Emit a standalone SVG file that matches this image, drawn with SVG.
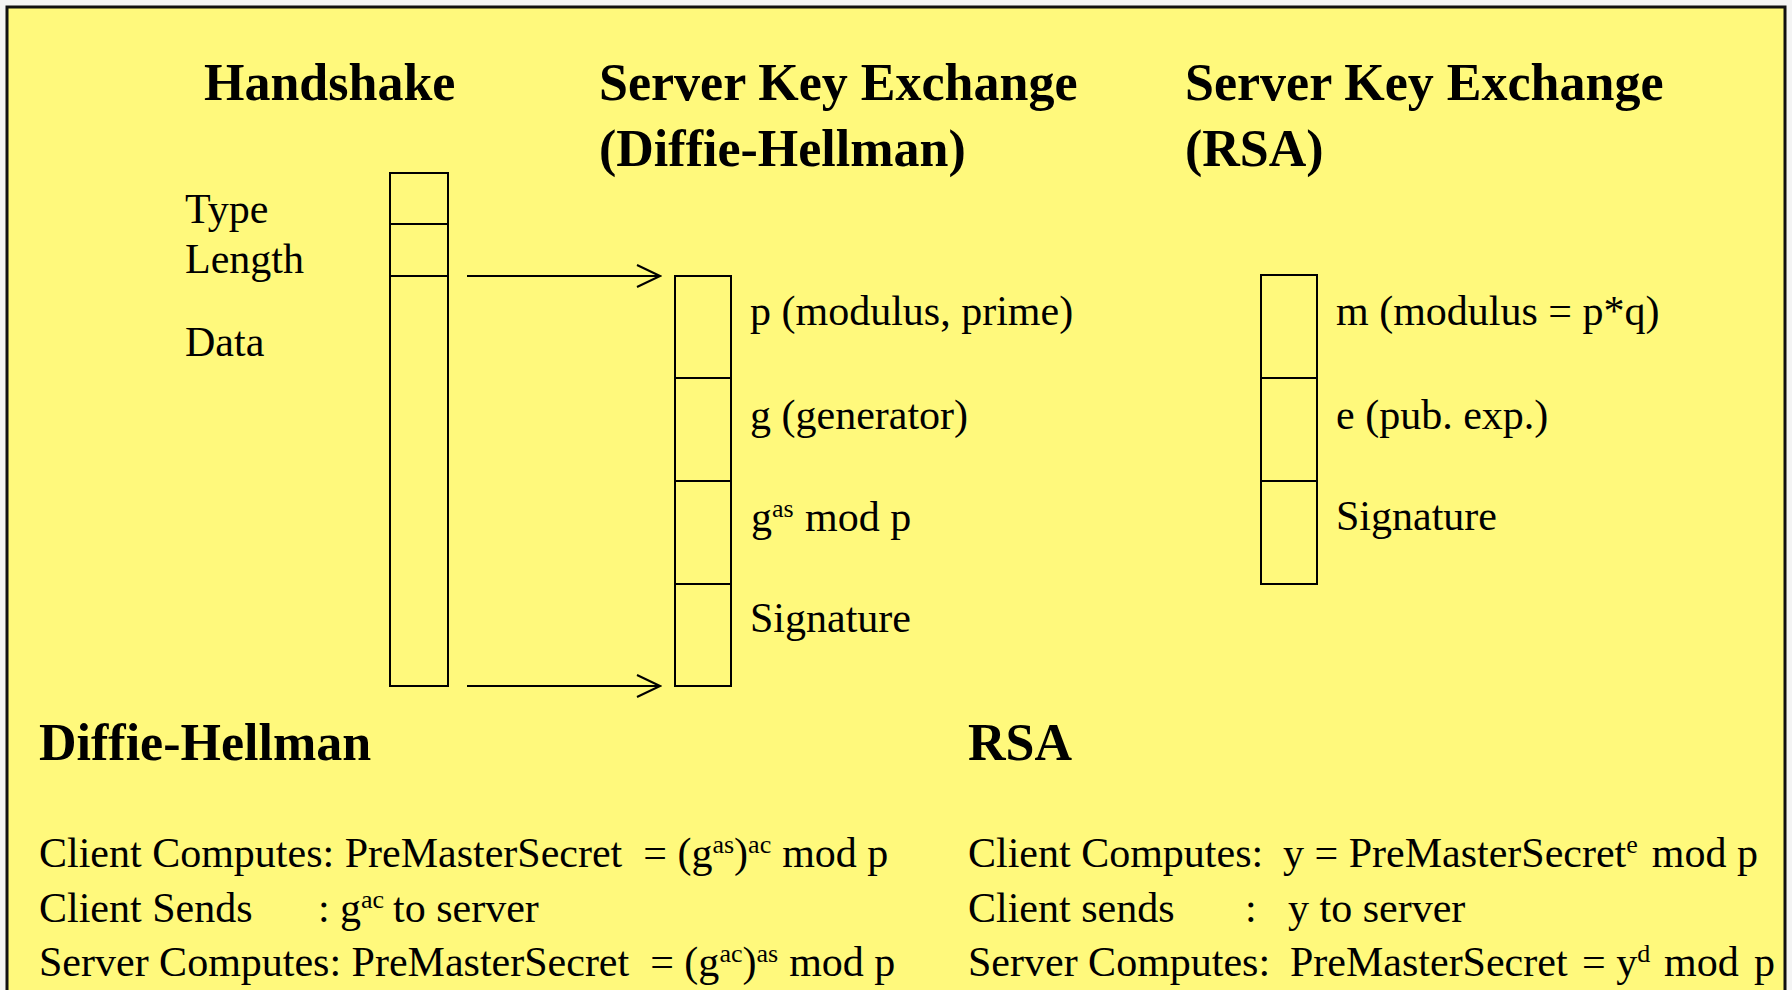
<svg xmlns="http://www.w3.org/2000/svg" width="1792" height="990" viewBox="0 0 1792 990">
  <defs>
    <style>
      .title { font-family: "Liberation Serif", "Times New Roman", serif; font-weight: bold; font-size: 52px; fill: #000; }
      .lbl { font-family: "Liberation Serif", "Times New Roman", serif; font-size: 42px; fill: #000; }
      .sup { font-size: 26px; }
      .box { fill: none; stroke: #000; stroke-width: 2; }
      .conn { fill: none; stroke: #000; stroke-width: 2; }
    </style>
    <marker id="openArrow" viewBox="0 0 26 24" refX="24" refY="12" markerWidth="26" markerHeight="24" markerUnits="userSpaceOnUse" orient="auto">
      <path d="M1,1 L24,12 L1,23" fill="none" stroke="#000" stroke-width="2"/>
    </marker>
  </defs>

  <!-- page -->
  <rect x="0" y="0" width="1792" height="990" fill="#f4f4f4"/>
  <rect x="7" y="7" width="1778" height="1000" fill="#fff97c" stroke="#111" stroke-width="3"/>

  <!-- column headings -->
  <g id="headings">
    <text class="title" x="204" y="100">Handshake</text>
    <text class="title" x="599" y="100">Server Key Exchange</text>
    <text class="title" x="599" y="166">(Diffie-Hellman)</text>
    <text class="title" x="1185" y="100">Server Key Exchange</text>
    <text class="title" x="1185" y="166">(RSA)</text>
  </g>

  <!-- handshake record -->
  <g id="handshake">
    <rect class="box" x="390" y="173" width="58" height="513"/>
    <line class="box" x1="390" y1="224" x2="448" y2="224"/>
    <line class="box" x1="390" y1="276" x2="448" y2="276"/>
    <text class="lbl" x="185" y="223">Type</text>
    <text class="lbl" x="185" y="273">Length</text>
    <text class="lbl" x="185" y="356">Data</text>
  </g>

  <!-- Diffie-Hellman server key exchange -->
  <g id="dh-exchange">
    <rect class="box" x="675" y="276" width="56" height="410"/>
    <line class="box" x1="675" y1="378" x2="731" y2="378"/>
    <line class="box" x1="675" y1="481" x2="731" y2="481"/>
    <line class="box" x1="675" y1="584" x2="731" y2="584"/>
    <text class="lbl" x="750" y="325">p (modulus, prime)</text>
    <text class="lbl" x="750" y="429">g (generator)</text>
    <text class="lbl" x="751" y="531">g<tspan class="sup" dy="-14">as</tspan><tspan dy="14" x="805">mod p</tspan></text>
    <text class="lbl" x="750" y="632">Signature</text>
  </g>

  <!-- RSA server key exchange -->
  <g id="rsa-exchange">
    <rect class="box" x="1261" y="275" width="56" height="309"/>
    <line class="box" x1="1261" y1="378" x2="1317" y2="378"/>
    <line class="box" x1="1261" y1="481" x2="1317" y2="481"/>
    <text class="lbl" x="1336" y="325">m (modulus = p*q)</text>
    <text class="lbl" x="1336" y="429">e (pub. exp.)</text>
    <text class="lbl" x="1336" y="530">Signature</text>
  </g>

  <!-- connectors: data field expands into the key exchange body -->
  <g id="connectors">
    <line class="conn" x1="467" y1="276" x2="660" y2="276" marker-end="url(#openArrow)"/>
    <line class="conn" x1="467" y1="686" x2="660" y2="686" marker-end="url(#openArrow)"/>
  </g>

  <!-- Diffie-Hellman computation -->
  <g id="dh-steps">
    <text class="title" x="39" y="760">Diffie-Hellman</text>
    <text class="lbl" x="39" y="867">Client Computes: PreMasterSecret<tspan dx="21">= (g</tspan><tspan class="sup" dy="-14">as</tspan><tspan dy="14">)</tspan><tspan class="sup" dy="-14">ac</tspan><tspan dy="14" dx="11">mod p</tspan></text>
    <text class="lbl" x="39" y="922">Client Sends<tspan x="318">:</tspan><tspan x="340">g</tspan><tspan class="sup" dy="-14">ac</tspan><tspan dy="14" x="393">to server</tspan></text>
    <text class="lbl" x="39" y="976">Server Computes: PreMasterSecret<tspan dx="21">= (g</tspan><tspan class="sup" dy="-14">ac</tspan><tspan dy="14">)</tspan><tspan class="sup" dy="-14">as</tspan><tspan dy="14" dx="11">mod p</tspan></text>
  </g>

  <!-- RSA computation -->
  <g id="rsa-steps">
    <text class="title" x="968" y="760">RSA</text>
    <text class="lbl" x="968" y="867">Client Computes:<tspan x="1283">y = PreMasterSecret</tspan><tspan class="sup" dy="-14">e</tspan><tspan dy="14" dx="14">mod p</tspan></text>
    <text class="lbl" x="968" y="922">Client sends<tspan x="1245">:</tspan><tspan x="1288">y to server</tspan></text>
    <text class="lbl" x="968" y="976">Server Computes:<tspan x="1290">PreMasterSecret</tspan><tspan x="1582">= y</tspan><tspan class="sup" dy="-14">d</tspan><tspan dy="14" x="1664">mod</tspan><tspan x="1754">p</tspan></text>
  </g>
</svg>
